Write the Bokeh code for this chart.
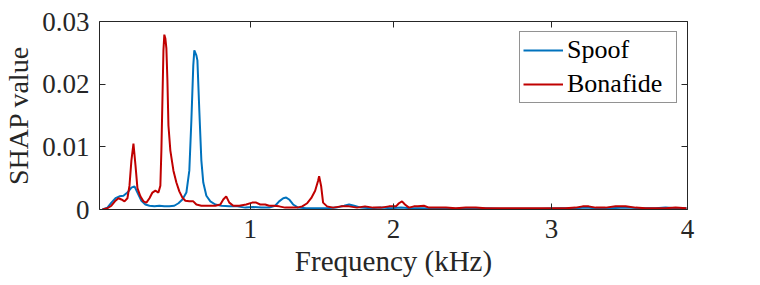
from bokeh.plotting import figure
from bokeh.models import (Range1d, FixedTicker, LinearAxis, Legend, LegendItem)
from bokeh.embed import file_html
from bokeh.resources import INLINE

# ---------------- data ----------------
spoof_freq = [0.020, 0.054, 0.081, 0.109, 0.136, 0.163, 0.190, 0.217, 0.238, 0.258,
              0.285, 0.312, 0.340, 0.374, 0.407, 0.441, 0.475, 0.509, 0.537, 0.564,
              0.591, 0.611, 0.625, 0.638, 0.645, 0.659, 0.666, 0.679, 0.693, 0.706,
              0.727, 0.754, 0.788, 0.829, 0.883, 0.937, 0.992, 1.046, 1.100, 1.154,
              1.195, 1.222, 1.250, 1.270, 1.290, 1.317, 1.351, 1.406, 1.474, 1.542,
              1.610, 1.664, 1.698, 1.732, 1.779, 1.847, 1.915, 1.983, 2.051, 2.119,
              2.187, 2.323, 2.458, 2.594, 2.730, 2.866, 3.002, 3.137, 3.239, 3.307,
              3.375, 3.477, 3.579, 3.681, 3.783, 3.851, 3.919, 3.993]
spoof_shap = [0.0000, 0.0003, 0.0011, 0.0018, 0.0021, 0.0022, 0.0027, 0.0035, 0.0037, 0.0027,
              0.0014, 0.0008, 0.0006, 0.0005, 0.0006, 0.0005, 0.0005, 0.0006, 0.0010, 0.0016,
              0.0027, 0.0062, 0.0142, 0.0230, 0.0254, 0.0246, 0.0238, 0.0158, 0.0078, 0.0043,
              0.0022, 0.0013, 0.0008, 0.0006, 0.0005, 0.0005, 0.0003, 0.0004, 0.0003, 0.0003,
              0.0006, 0.0013, 0.0018, 0.0019, 0.0016, 0.0008, 0.0003, 0.0002, 0.0002, 0.0002,
              0.0003, 0.0006, 0.0008, 0.0006, 0.0003, 0.0002, 0.0003, 0.0002, 0.0003, 0.0002,
              0.0002, 0.0001, 0.0001, 0.0002, 0.0001, 0.0001, 0.0001, 0.0002, 0.0002, 0.0003,
              0.0002, 0.0002, 0.0003, 0.0002, 0.0002, 0.0003, 0.0002, 0.0002]

bona_freq = [0.020, 0.054, 0.081, 0.109, 0.129, 0.149, 0.170, 0.190, 0.204, 0.217,
             0.231, 0.245, 0.258, 0.278, 0.299, 0.319, 0.340, 0.360, 0.380, 0.401,
             0.414, 0.421, 0.428, 0.435, 0.441, 0.448, 0.455, 0.462, 0.469, 0.482,
             0.503, 0.523, 0.543, 0.564, 0.584, 0.611, 0.638, 0.659, 0.693, 0.740,
             0.788, 0.822, 0.842, 0.862, 0.883, 0.910, 0.951, 0.998, 1.039, 1.066,
             1.093, 1.127, 1.154, 1.188, 1.222, 1.263, 1.304, 1.345, 1.379, 1.413,
             1.440, 1.467, 1.487, 1.494, 1.508, 1.521, 1.548, 1.589, 1.643, 1.698,
             1.752, 1.806, 1.861, 1.915, 1.969, 2.017, 2.037, 2.058, 2.078, 2.105,
             2.139, 2.166, 2.207, 2.241, 2.289, 2.357, 2.424, 2.492, 2.560, 2.628,
             2.696, 2.764, 2.832, 2.900, 2.968, 3.036, 3.104, 3.171, 3.239, 3.287,
             3.328, 3.375, 3.443, 3.511, 3.579, 3.647, 3.715, 3.783, 3.851, 3.919,
             3.993]
bona_shap = [0.0000, 0.0002, 0.0006, 0.0014, 0.0018, 0.0016, 0.0013, 0.0018, 0.0038, 0.0078,
             0.0105, 0.0070, 0.0034, 0.0021, 0.0013, 0.0011, 0.0018, 0.0027, 0.0030, 0.0027,
             0.0038, 0.0094, 0.0174, 0.0254, 0.0279, 0.0273, 0.0257, 0.0206, 0.0134, 0.0094,
             0.0062, 0.0043, 0.0029, 0.0019, 0.0014, 0.0013, 0.0013, 0.0008, 0.0006, 0.0006,
             0.0006, 0.0008, 0.0016, 0.0021, 0.0011, 0.0006, 0.0006, 0.0008, 0.0011, 0.0011,
             0.0008, 0.0008, 0.0006, 0.0006, 0.0005, 0.0003, 0.0003, 0.0003, 0.0005, 0.0010,
             0.0018, 0.0030, 0.0046, 0.0053, 0.0037, 0.0011, 0.0005, 0.0003, 0.0005, 0.0005,
             0.0003, 0.0005, 0.0003, 0.0003, 0.0005, 0.0005, 0.0010, 0.0013, 0.0008, 0.0003,
             0.0005, 0.0005, 0.0006, 0.0003, 0.0003, 0.0003, 0.0002, 0.0003, 0.0003, 0.0002,
             0.0002, 0.0002, 0.0002, 0.0002, 0.0002, 0.0002, 0.0002, 0.0002, 0.0003, 0.0005,
             0.0005, 0.0003, 0.0003, 0.0005, 0.0005, 0.0003, 0.0002, 0.0002, 0.0002, 0.0003,
             0.0002]

x_tick_pos = [1.025, 2.0, 3.075, 4.0]
x_tick_labels = ["1", "2", "3", "4"]
y_tick_pos = [0.0, 0.01, 0.02, 0.03]
y_tick_labels = ["0", "0.01", "0.02", "0.03"]

series_names = ["Spoof", "Bonafide"]
series_colors = ["#0072BD", "#C00000"]

FONT = "'Liberation Serif'"
TXT = "#262626"

p = figure(width=760, height=285, output_backend="svg", toolbar_location=None,
           x_range=Range1d(0, 4), y_range=Range1d(0, 0.03),
           min_border_left=98, min_border_right=73, min_border_top=21,
           min_border_bottom=76)
p.xgrid.visible = False
p.ygrid.visible = False
p.outline_line_color = None
p.background_fill_color = "white"
p.border_fill_color = "white"

r1 = p.line(spoof_freq, spoof_shap, line_color=series_colors[0], line_width=2)
r2 = p.line(bona_freq, bona_shap, line_color=series_colors[1], line_width=2)


def style_axis(ax, ticks, labels, show_labels=True):
    ax.ticker = FixedTicker(ticks=ticks)
    ax.minor_tick_line_color = None
    ax.major_tick_in = 6
    ax.major_tick_out = 0
    ax.axis_line_color = TXT
    ax.major_tick_line_color = TXT
    ax.axis_line_width = 1
    ax.major_label_text_font = FONT
    ax.major_label_text_color = TXT
    ax.axis_label_text_font = FONT
    ax.axis_label_text_color = TXT
    ax.axis_label_text_font_style = "normal"
    ax.major_label_text_font_size = "27px"
    ax.axis_label_text_font_size = "28px"
    if show_labels:
        ax.major_label_overrides = {t: l for t, l in zip(ticks, labels)}
    else:
        ax.major_label_overrides = {t: "" for t in ticks}
        ax.major_label_standoff = 0


xa = p.xaxis[0]
style_axis(xa, x_tick_pos, x_tick_labels)
xa.axis_label = "Frequency (kHz)"
xa.axis_label_text_font_size = "29px"
xa.major_label_standoff = 10
xa.axis_label_standoff = 4

ya = p.yaxis[0]
style_axis(ya, y_tick_pos, y_tick_labels)
ya.axis_label = "SHAP value"
ya.major_label_standoff = 10
ya.axis_label_standoff = 5

top = LinearAxis()
style_axis(top, x_tick_pos, x_tick_labels, show_labels=False)
p.add_layout(top, "above")
right = LinearAxis()
style_axis(right, y_tick_pos, y_tick_labels, show_labels=False)
p.add_layout(right, "right")

legend = Legend(items=[LegendItem(label=series_names[0], renderers=[r1]),
                       LegendItem(label=series_names[1], renderers=[r2])],
                location="top_right", margin=10, padding=3, spacing=4,
                glyph_width=40, glyph_height=30, label_height=30, label_width=106,
                label_standoff=4, border_line_color="#262626", border_line_width=1,
                label_text_font=FONT, label_text_font_size="26px", label_text_color="black",
                background_fill_color="white", background_fill_alpha=1)
p.add_layout(legend)

open("out.html", "w").write(file_html(p, INLINE))
